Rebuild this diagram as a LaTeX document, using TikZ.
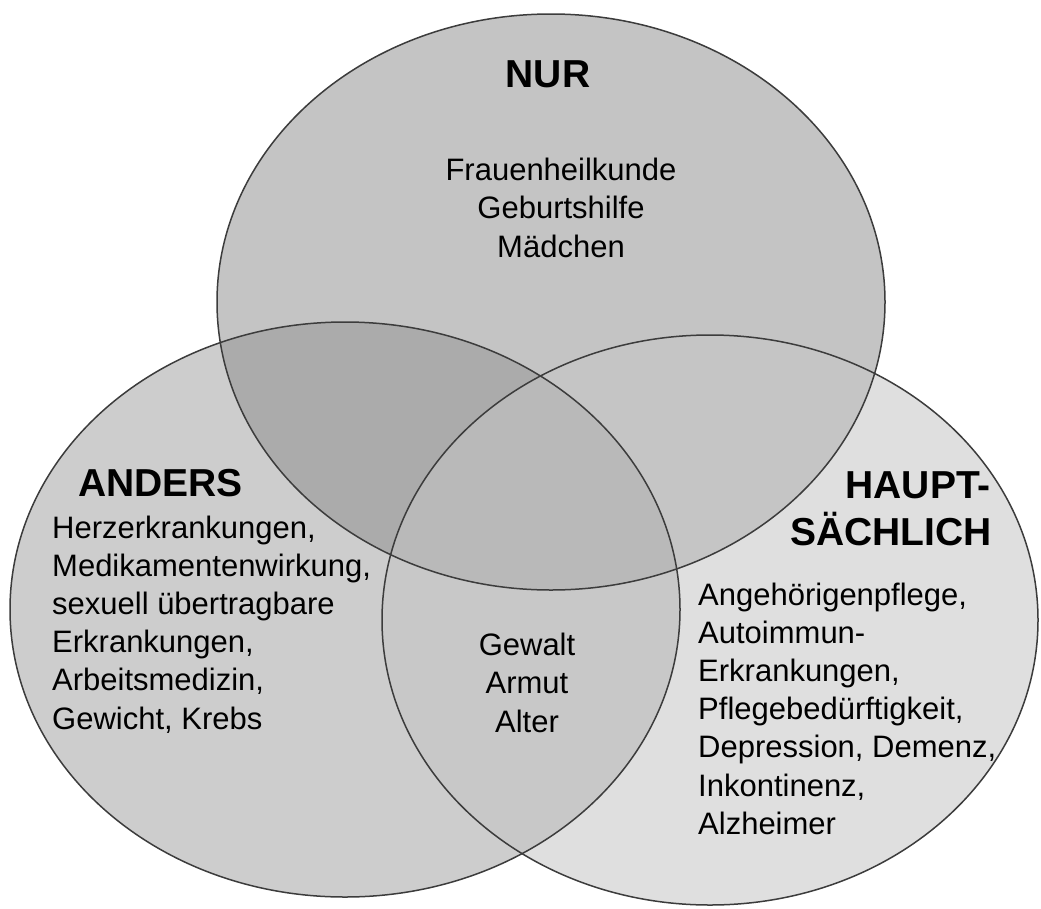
\documentclass[tikz,border=0pt]{standalone}
\usepackage{fontspec}
\setmainfont{Liberation Sans}
\definecolor{cT}{HTML}{C4C4C4}
\definecolor{cL}{HTML}{CDCDCD}
\definecolor{cR}{HTML}{DFDFDF}
\definecolor{cTL}{HTML}{ABABAB}
\definecolor{cTR}{HTML}{C5C5C5}
\definecolor{cLR}{HTML}{C8C8C8}
\definecolor{cC}{HTML}{B9B9B9}
\definecolor{rimc}{HTML}{3C3C3C}
\begin{document}
\begin{tikzpicture}[x=1pt,y=-1pt,
  lbl/.style={inner sep=0pt, font=\fontsize{31}{38}\selectfont},
  ttl/.style={inner sep=0pt, font=\fontsize{39}{47}\selectfont\bfseries},
  rim/.style={draw=rimc, line width=1.5pt},
  topE/.style={insert path={(551,302) ellipse [x radius=334pt, y radius=288pt]}},
  leftE/.style={insert path={(345,609.5) ellipse [x radius=335pt, y radius=287.5pt]}},
  rightE/.style={insert path={(710,620) ellipse [x radius=328pt, y radius=285pt]}}]
\useasboundingbox (0,0) rectangle (1041,908);
% base fills
\fill[cR, rightE];
\fill[cL, leftE];
\fill[cT, topE];
% overlaps
\begin{scope}\clip[topE]; \fill[cTL, leftE]; \end{scope}
\begin{scope}\clip[topE]; \fill[cTR, rightE]; \end{scope}
\begin{scope}\clip[leftE]; \fill[cLR, rightE]; \end{scope}
\begin{scope}\clip[topE]; \clip[leftE]; \fill[cC, rightE]; \end{scope}
% outlines
\draw[rim, topE];
\draw[rim, leftE];
\draw[rim, rightE];
% top circle texts
\node[ttl, anchor=base] (nur) at (548,87) {NUR};
\foreach \t [count=\i] in {Frauenheilkunde, Geburtshilfe, Mädchen}
  \node[lbl, anchor=base] (T\i) at (561,{180+(\i-1)*38.5}) {\t};
% left circle texts
\node[ttl, anchor=base west] (anders) at (78,496) {ANDERS};
\foreach \t [count=\i] in {{Herzerkrankungen,},{Medikamentenwirkung,},{sexuell übertragbare},{Erkrankungen,},{Arbeitsmedizin,},{Gewicht, Krebs}}
  \node[lbl, anchor=base west] (L\i) at (52,{538+(\i-1)*38.2}) {\t};
% right circle texts
\node[ttl, anchor=base east] (haupt) at (991,498) {HAUPT-};
\node[ttl, anchor=base east] (saech) at (992,545) {SÄCHLICH};
\foreach \t [count=\i] in {{Angehörigenpflege,},{Autoimmun-},{Erkrankungen,},{Pflegebedürftigkeit,},{Depression, Demenz,},{Inkontinenz,},{Alzheimer}}
  \node[lbl, anchor=base west] (R\i) at (698,{605+(\i-1)*38.2}) {\t};
% centre texts
\foreach \t [count=\i] in {Gewalt, Armut, Alter}
  \node[lbl, anchor=base] (C\i) at (527,{655+(\i-1)*38.5}) {\t};
\end{tikzpicture}
\end{document}
